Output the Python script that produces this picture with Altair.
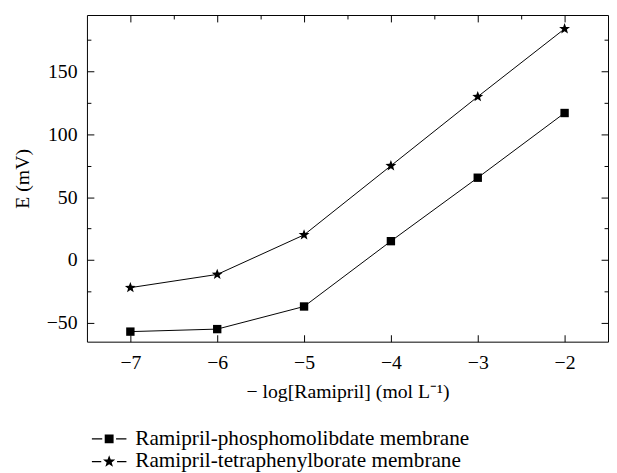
import math
import altair as alt
import pandas as pd

# ---- data ----
log_conc = [-7, -6, -5, -4, -3, -2]
phospho_E = [-57, -55, -37, 15, 65.5, 117]
tetra_E = [-22, -11.5, 20, 75, 130, 184]
series_names = ["Ramipril-phosphomolibdate membrane", "Ramipril-tetraphenylborate membrane"]

x_tick_values = [-7, -6.5, -6, -5.5, -5, -4.5, -4, -3.5, -3, -2.5, -2]
y_tick_values = [-50, -25, 0, 25, 50, 75, 100, 125, 150, 175]

rows = []
for x, e in zip(log_conc, phospho_E):
    rows.append({"x": x, "E": e, "series": series_names[0]})
for x, e in zip(log_conc, tetra_E):
    rows.append({"x": x, "E": e, "series": series_names[1]})
df = pd.DataFrame(rows)


# ---- symbol shapes ----
def star(R, r, scale=1.0):
    pts = []
    for i in range(10):
        a = -math.pi / 2 + i * math.pi / 5
        rad = R if i % 2 == 0 else r
        pts.append((rad * math.cos(a) / scale, rad * math.sin(a) / scale))
    return "M" + "L".join(f"{px:.3f},{py:.3f}" for px, py in pts) + "Z"


def rect(x1, y1, x2, y2, scale):
    return (f"M{x1/scale:.3f},{y1/scale:.3f}L{x2/scale:.3f},{y1/scale:.3f}"
            f"L{x2/scale:.3f},{y2/scale:.3f}L{x1/scale:.3f},{y2/scale:.3f}Z")


plot_star = star(1.0, 0.42)

s = 11.5  # legend symbol half-size in px (sqrt(529)/2)
legend_square = (
    rect(-17.5, -0.6, -7, 0.6, s)
    + rect(-4.5, -4.5, 4.5, 4.5, s)
    + rect(7, -0.6, 17.5, 0.6, s)
)
legend_star = (
    rect(-17.5, -0.6, -8, 0.6, s)
    + star(6.5, 2.7, s)
    + rect(8, -0.6, 17.5, 0.6, s)
)

FONT = "Liberation Serif"
x_dom = [-7.5, -1.5]
y_dom = [-65, 195]

x_tick_size = {"condition": {"test": "datum.value % 1 !== 0", "value": -4}, "value": -7}
y_tick_size = {"condition": {"test": "datum.value % 50 !== 0", "value": -4}, "value": -7}

base = alt.Chart(df)

lines = base.mark_line(color="black", strokeWidth=1).encode(
    x=alt.X("x:Q", scale=alt.Scale(domain=x_dom, nice=False, zero=False),
            axis=alt.Axis(orient="bottom", values=x_tick_values, format="d",
                          labelExpr="datum.value % 1 === 0 ? datum.label : ''",
                          tickSize=x_tick_size, labelPadding=18,
                          labelFont=FONT, labelFontSize=20, labelColor="black",
                          titleFont=FONT, titleFontSize=20, titleFontWeight="normal",
                          titleColor="black",
                          title="− log[Ramipril] (mol L⁻¹)", titlePadding=10)),
    y=alt.Y("E:Q", scale=alt.Scale(domain=y_dom, nice=False, zero=False),
            axis=alt.Axis(orient="left", values=y_tick_values, format="d",
                          labelExpr="datum.value % 50 === 0 ? datum.label : ''",
                          tickSize=y_tick_size, labelPadding=17,
                          labelFont=FONT, labelFontSize=20, labelColor="black",
                          titleFont=FONT, titleFontSize=20, titleFontWeight="normal",
                          titleColor="black",
                          title="E (mV)", titlePadding=14)),
    detail="series:N",
)

points = base.mark_point(filled=True, color="black", opacity=1).encode(
    x=alt.X("x:Q", scale=alt.Scale(domain=x_dom, nice=False, zero=False), axis=None),
    y=alt.Y("E:Q", scale=alt.Scale(domain=y_dom, nice=False, zero=False), axis=None),
    shape=alt.Shape("series:N", scale=alt.Scale(domain=series_names, range=["square", plot_star]), legend=None),
    size=alt.Size("series:N", scale=alt.Scale(domain=series_names, range=[72, 134]), legend=None),
)

legend_layer = base.mark_point(filled=True, color="black", size=0).encode(
    x=alt.X("x:Q", scale=alt.Scale(domain=x_dom, nice=False, zero=False),
            axis=alt.Axis(orient="top", values=x_tick_values, labels=False,
                          tickSize=x_tick_size, title=None)),
    y=alt.Y("E:Q", scale=alt.Scale(domain=y_dom, nice=False, zero=False),
            axis=alt.Axis(orient="right", values=y_tick_values, labels=False,
                          tickSize=y_tick_size, title=None)),
    shape=alt.Shape("series:N",
                    scale=alt.Scale(domain=series_names, range=[legend_square, legend_star]),
                    legend=alt.Legend(orient="none", legendX=11, legendY=418, title=None,
                                      symbolSize=529, symbolFillColor="black",
                                      symbolStrokeWidth=0,
                                      symbolOpacity=1, labelOffset=15, rowPadding=1,
                                      padding=0, labelFont=FONT, labelFontSize=21.5,
                                      labelColor="black", labelLimit=0)),
)

chart = (
    alt.layer(lines, points, legend_layer)
    .resolve_scale(shape="independent", size="independent")
    .resolve_axis(x="independent", y="independent")
    .properties(width=528, height=331, padding={"left": 4, "top": 3, "right": 0, "bottom": 0})
    .configure_view(stroke="black", strokeWidth=1)
    .configure_axis(domain=False, grid=False, tickColor="black", tickWidth=1,
                    labelFont=FONT, labelFontSize=20, labelColor="black",
                    titleFont=FONT, titleFontSize=20, titleFontWeight="normal",
                    titleColor="black")
)

chart.save("out.html", embed_options={"renderer": "svg", "actions": False})
